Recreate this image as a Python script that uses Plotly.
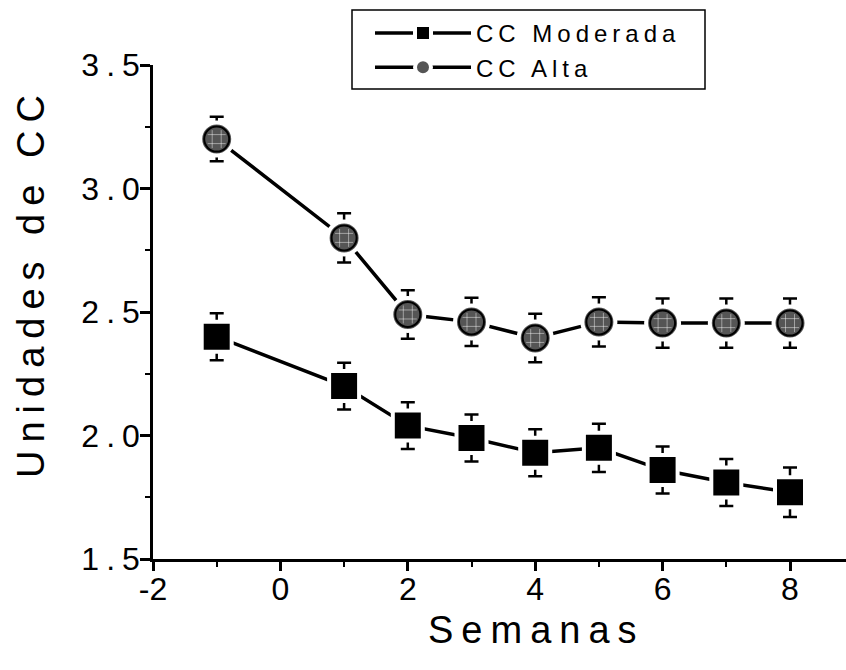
import plotly.graph_objects as go

# Weekly condition-score data (mean ± error)
semanas = [-1, 1, 2, 3, 4, 5, 6, 7, 8]
cc_moderada = [2.40, 2.20, 2.04, 1.99, 1.93, 1.95, 1.86, 1.81, 1.77]
err_moderada = [0.095, 0.095, 0.095, 0.095, 0.095, 0.098, 0.095, 0.095, 0.10]
cc_alta = [3.20, 2.80, 2.49, 2.46, 2.395, 2.46, 2.455, 2.455, 2.455]
err_alta = [0.09, 0.10, 0.098, 0.098, 0.098, 0.10, 0.10, 0.10, 0.10]

x_ticks = [-2, 0, 2, 4, 6, 8]
x_ticklabels = ["-2", "0", "2", "4", "6", "8"]
y_ticks = [1.5, 2.0, 2.5, 3.0, 3.5]
y_ticklabels = ["1.5", "2.0", "2.5", "3.0", "3.5"]

font_family = "Liberation Sans, Arial, sans-serif"
W, H = 846, 670
M_L, M_R, M_T, M_B = 153, 0, 65, 111
PLOT_W, PLOT_H = W - M_L - M_R, H - M_T - M_B
px_per_unit = 63.7
x_max = -2 + PLOT_W / px_per_unit


def px_x(px):
    """Horizontal pixel position -> paper coordinate."""
    return (px - M_L) / PLOT_W


def px_y(py):
    """Vertical pixel position (from top) -> paper coordinate."""
    return 1 + (M_T - py) / PLOT_H


def spaced(text, px):
    """Letter-spaced label (no extra space after the last character)."""
    if len(text) < 2:
        return text
    return f'<span style="letter-spacing:{px}px">{text[:-1]}</span>{text[-1]}'


fig = go.Figure()


def add_series(name, y, err, symbol, size, fill, group):
    # line + white-bordered marker (leaves a small gap where the line meets the marker)
    fig.add_trace(go.Scatter(
        x=semanas, y=y, name=spaced(name, 5), mode="lines+markers",
        legendgroup=group,
        line=dict(color="black", width=3.5),
        marker=dict(symbol=symbol, size=size + 8, color=fill,
                    line=dict(color="white", width=4)),
        error_y=dict(type="data", array=err, visible=True,
                     color="black", thickness=2.5, width=7),
    ))
    # the marker itself with its black outline
    fig.add_trace(go.Scatter(
        x=semanas, y=y, mode="markers", showlegend=False, hoverinfo="skip",
        legendgroup=group,
        marker=dict(symbol=symbol, size=size, color=fill,
                    line=dict(color="black", width=2)),
    ))


add_series("CC Moderada", cc_moderada, err_moderada, "square", 22, "black", "mod")
add_series("CC Alta", cc_alta, err_alta, "circle", 25, "#555555", "alta")

# light grid texture over the circles
fig.add_trace(go.Scatter(
    x=semanas, y=cc_alta, mode="markers", showlegend=False, hoverinfo="skip",
    marker=dict(symbol="hash-open", size=18, color="rgba(255,255,255,0.45)",
                line=dict(color="rgba(255,255,255,0.45)", width=1)),
))

# legend frame
fig.add_shape(type="rect", xref="paper", yref="paper",
              x0=px_x(352), x1=px_x(705), y0=px_y(89), y1=px_y(10),
              line=dict(color="black", width=1.5), fillcolor="rgba(0,0,0,0)")

# axis titles
fig.add_annotation(text=spaced("Semanas", 8), xref="paper", yref="paper",
                   x=px_x(532), y=px_y(630), showarrow=False,
                   xanchor="center", yanchor="middle",
                   font=dict(size=38, family=font_family, color="black"))
fig.add_annotation(text=spaced("Unidades de CC", 8), xref="paper", yref="paper",
                   x=px_x(31), y=px_y(287), showarrow=False, textangle=-90,
                   xanchor="center", yanchor="middle",
                   font=dict(size=38, family=font_family, color="black"))

fig.update_layout(
    width=W, height=H,
    margin=dict(l=M_L, r=M_R, t=M_T, b=M_B, pad=0),
    paper_bgcolor="white", plot_bgcolor="white",
    font=dict(family=font_family, color="black", size=31),
    showlegend=True,
    legend=dict(
        x=px_x(370), y=px_y(11),
        xanchor="left", yanchor="top",
        borderwidth=0, bgcolor="rgba(0,0,0,0)",
        font=dict(family=font_family, size=24, color="black"),
        itemwidth=96, tracegroupgap=4, traceorder="normal",
    ),
    xaxis=dict(
        range=[-2, x_max], tickvals=x_ticks,
        ticktext=x_ticklabels,
        showgrid=False, zeroline=False,
        showline=True, linecolor="black", linewidth=2.5,
        ticks="outside", ticklen=9, tickwidth=2.5, tickcolor="black",
        tickfont=dict(size=32), ticklabelstandoff=-9,
        minor=dict(dtick=1, tick0=-2, ticks="outside", ticklen=5,
                   tickwidth=2, tickcolor="black", showgrid=False),
    ),
    yaxis=dict(
        range=[1.5, 3.5], tickvals=y_ticks,
        ticktext=[spaced(t, 7) for t in y_ticklabels],
        showgrid=False, zeroline=False,
        showline=True, linecolor="black", linewidth=2.5,
        ticks="outside", ticklen=10, tickwidth=2.5, tickcolor="black",
        tickfont=dict(size=32), ticklabelstandoff=-6,
        minor=dict(dtick=0.25, tick0=1.5, ticks="outside", ticklen=5,
                   tickwidth=2, tickcolor="black", showgrid=False),
    ),
)

fig.write_html("out.html")
